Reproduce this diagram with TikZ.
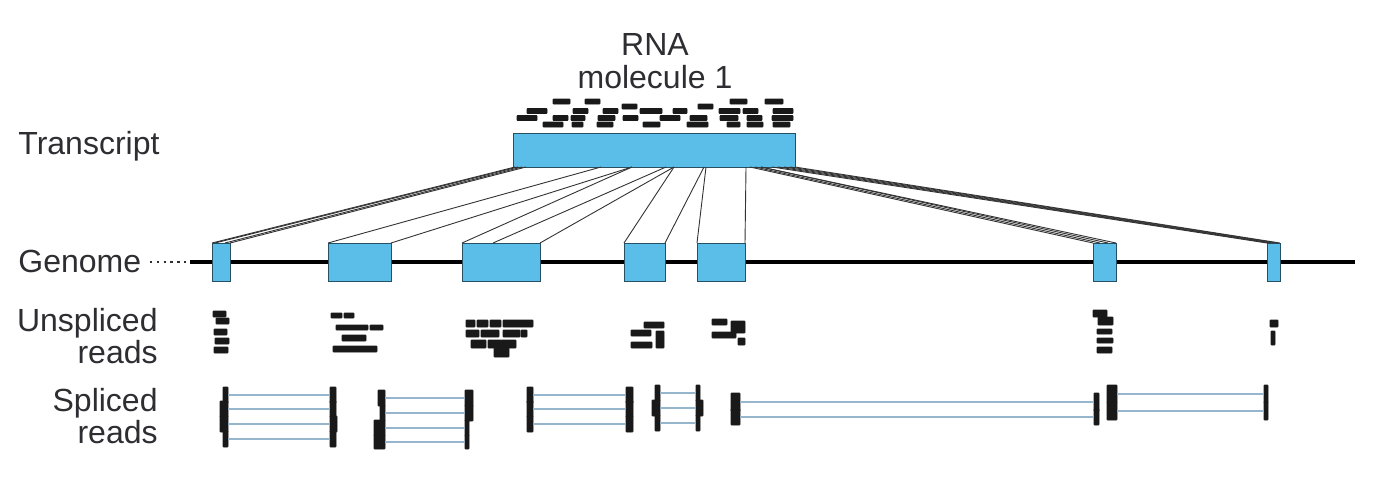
\documentclass[tikz,border=0pt]{standalone}
\usepackage{fontspec}
\setmainfont{Liberation Sans}
\definecolor{exfill}{RGB}{90,190,232}
\definecolor{exdraw}{RGB}{40,80,100}
\definecolor{txt}{RGB}{45,45,50}
\definecolor{spl}{RGB}{150,182,205}
\definecolor{readc}{RGB}{25,25,25}
\newcommand\rdb[4]{\fill[rd] (#1,#2) rectangle (#3,#4);}
% spliced read: y, left x1, left x2, right x1, right x2, half height
\newcommand\spr[6]{\fill[rd] (#2,#1-#6) rectangle (#3,#1+#6);
  \fill[rd] (#4,#1-#6) rectangle (#5,#1+#6);
  \draw[spline] (#3,#1) -- (#4,#1);}
\begin{document}
\begin{tikzpicture}[x=0.5pt,y=-0.5pt,
  exonst/.style={fill=exfill,draw=exdraw,line width=0.5pt},
  conn/.style={draw=black!80,line width=0.45pt},
  lab/.style={text=txt,font=\fontsize{16}{14}\selectfont,inner sep=0pt},
  rd/.style={fill=readc,draw=readc,line width=0.3pt,rounded corners=0.3pt},
  spline/.style={draw=spl,line width=1pt}]
\useasboundingbox (0,0) rectangle (1380,494);

% labels
\node[lab,anchor=center,align=center,font=\fontsize{16}{16.5}\selectfont] (rna) at (655,61) {RNA\\molecule 1};
\node[lab,anchor=west] (ltr) at (18,146) {Transcript};
\node[lab,anchor=west] (lgen) at (18,261) {Genome};
\node[lab,anchor=east,align=right] (lun) at (158,336) {Unspliced\\reads};
\node[lab,anchor=east,align=right,font=\fontsize{16}{16}\selectfont] (lsp) at (158,416) {Spliced\\reads};

% reads on transcript
\foreach \a/\b in {553/570,585/600,730/747,765/783}{\rdb{\a}{99}{\b}{104}}
\foreach \a/\b in {622/637,698/713}{\rdb{\a}{104}{\b}{109}}
\foreach \a/\b in {527/547,573/588,603/618,640/662,673/687,719/740,743/758,773/793}{\rdb{\a}{108.5}{\b}{113.5}}
\foreach \a/\b in {517/537,553/568,571/585,598/615,623/638,660/680,690/707,720/738,747/762,772/793}{\rdb{\a}{115.5}{\b}{120.5}}
\foreach \a/\b in {543/563,572/583,597/613,643/660,687/708,727/740,747/763,773/790}{\rdb{\a}{122}{\b}{127}}

% transcript
\node[exonst,anchor=north west,minimum width=141pt,minimum height=17pt,inner sep=0pt] (tr) at (513,133) {};
\foreach \n/\x in {a/515,b/518,c/522,d/526,e/601,f/632,g/666,h/674,i/704,j/706,k/746,l/750,m/755,n/761,o/772,p/778,q/784,r/790,s/795}{\coordinate (t\n) at (\x,167);}

% genome
\draw[dash pattern=on 1.2pt off 2.2pt,line width=1.1pt,txt] (150,262) -- (188,262);
\coordinate (g0) at (190,262);
\coordinate (g1) at (1355,262);
\draw[line width=2pt] (g0) -- (g1);

\foreach \k/\a/\b in {1/212/230,2/328/391,3/462/540,4/624/665,5/697/745,6/1093/1116,7/1267/1280}{
  \draw[exonst] (\a,243) rectangle (\b,281);
  \coordinate (e\k l) at (\a,243);
  \coordinate (e\k r) at (\b,243);
}
\coordinate (e1m) at (215,243);
\coordinate (e1n) at (225,243);
\coordinate (e3m) at (493,243);
\coordinate (e6m) at (1100,243);
\coordinate (e6n) at (1108,243);
\coordinate (e7m) at (1270,243);
\coordinate (e7n) at (1273,243);
\coordinate (e7o) at (1277,243);

% connectors transcript -> exons
\draw[conn] (ta) -- (e1l);
\draw[conn] (tb) -- (e1m);
\draw[conn] (tc) -- (e1n);
\draw[conn] (td) -- (e1r);
\draw[conn] (te) -- (e2l);
\draw[conn] (tf) -- (e2r);
\draw[conn] (tf) -- (e3l);
\draw[conn] (tg) -- (e3m);
\draw[conn] (th) -- (e3r);
\draw[conn] (th) -- (e4l);
\draw[conn] (ti) -- (e4r);
\draw[conn] (tj) -- (e5l);
\draw[conn] (tk) -- (e5r);
\draw[conn] (tl) -- (e6l);
\draw[conn] (tm) -- (e6m);
\draw[conn] (tn) -- (e6n);
\draw[conn] (tn) -- (e6r);
\draw[conn] (to) -- (e7l);
\draw[conn] (tp) -- (e7m);
\draw[conn] (tq) -- (e7n);
\draw[conn] (tr) -- (e7o);
\draw[conn] (ts) -- (e7r);

% unspliced reads
\rdb{213}{311}{226}{317}\rdb{216}{318}{229}{324}\rdb{214}{329}{227}{335}\rdb{215}{338}{229}{344}\rdb{214}{347}{228}{353}
\rdb{331}{313}{342}{318}\rdb{344}{313}{354}{318}
\rdb{336}{325}{368}{330}\rdb{370}{325}{383}{330}
\rdb{342}{335}{366}{341}\rdb{333}{346}{377}{352}
\rdb{466}{320}{475}{327}\rdb{477}{320}{488}{327}\rdb{490}{320}{501}{327}\rdb{503}{320}{533}{327}
\rdb{466}{330}{479}{337}\rdb{481}{330}{499}{337}\rdb{503}{330}{520}{337}\rdb{521}{330}{527}{337}
\rdb{471}{340}{486}{348}\rdb{488}{340}{501}{348}\rdb{501}{340}{516}{348}
\rdb{494}{348}{509}{357}
\rdb{644}{322}{664}{328}\rdb{631}{330}{651}{336}\rdb{656}{331}{664}{348}\rdb{631}{342}{652}{348}
\rdb{712}{319}{727}{325}\rdb{731}{321}{745}{333}\rdb{712}{332}{736}{338}\rdb{738}{338}{745}{345}
\rdb{1093}{310}{1107}{317}\rdb{1098}{317}{1113}{325}\rdb{1097}{329}{1112}{334}\rdb{1097}{338}{1113}{343}\rdb{1097}{347}{1112}{353}
\rdb{1270}{320}{1278}{327}\rdb{1271}{331}{1275}{345}

% spliced reads
\spr{395}{223}{228}{330}{336}{8}
\spr{409}{220}{228}{330}{336}{8}
\spr{424}{220}{228}{330}{337}{8}
\spr{439}{223}{228}{330}{336}{8}

\spr{398}{378}{385}{465}{473}{8}
\spr{413}{380}{385}{465}{473}{8}
\spr{428}{374}{385}{465}{469}{8}
\spr{442}{374}{385}{465}{469}{7}

\spr{395}{527}{533}{626}{633}{8}
\spr{409}{527}{533}{626}{633}{8}
\spr{424}{527}{533}{626}{633}{8}

\spr{393}{655}{660}{696}{700}{8}
\spr{408}{652}{660}{696}{703}{8}
\spr{423}{655}{660}{696}{700}{8}

\spr{402}{731}{740}{1094}{1099}{9}
\spr{417}{731}{740}{1094}{1099}{8}

\spr{394}{1107}{1117}{1264}{1268}{9}
\spr{411}{1107}{1117}{1264}{1268}{9}
\end{tikzpicture}
\end{document}
